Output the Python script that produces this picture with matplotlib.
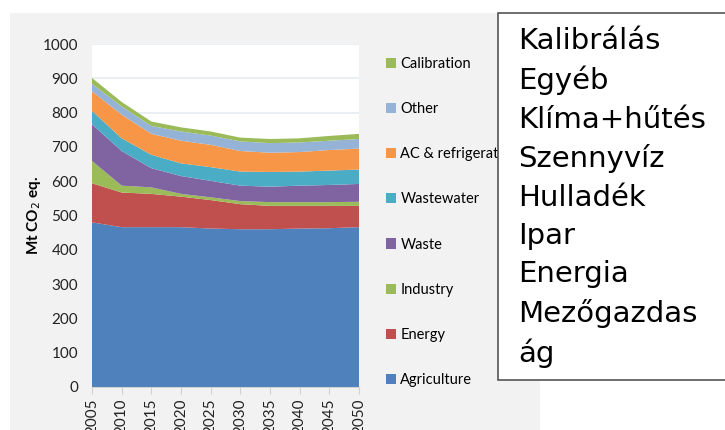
import matplotlib.pyplot as plt
from matplotlib.patches import Rectangle, Patch
import numpy as np

plt.rcParams.update({"font.family": ["Lato", "DejaVu Sans"], "font.size": 10})

# Data (Mt CO2 eq.)
years = [2005, 2010, 2015, 2020, 2025, 2030, 2035, 2040, 2045, 2050]
agriculture = [480, 466, 466, 466, 462, 460, 460, 462, 463, 466]
energy = [114, 101, 97, 89, 83, 73, 68, 66, 65, 62]
industry = [65, 20, 19, 8, 8, 9, 11, 11, 11, 12]
waste = [107, 101, 56, 52, 48, 45, 45, 48, 50, 52]
wastewater = [39, 37, 39, 37, 40, 41, 43, 41, 42, 42]
ac_refrig = [57, 69, 61, 66, 65, 60, 56, 57, 60, 61]
other = [22, 24, 23, 27, 27, 28, 28, 28, 27, 28]
calibration = [17, 13, 13, 12, 12, 11, 12, 12, 14, 15]

series_names = ["Agriculture", "Energy", "Industry", "Waste", "Wastewater",
                "AC & refrigeration", "Other", "Calibration"]
colors = ["#4F81BD", "#C0504D", "#9BBB59", "#8064A2", "#4BACC6",
          "#F79646", "#95B3D7", "#9BBB59"]
y_ticks = [0, 100, 200, 300, 400, 500, 600, 700, 800, 900, 1000]

# Hungarian labels in the overlay box
hu_labels = ["Kalibrálás", "Egyéb", "Klíma+hűtés", "Szennyvíz", "Hulladék",
             "Ipar", "Energia", "Mezőgazdas", "ág"]

fig = plt.figure(figsize=(7.25, 4.3), dpi=100)
fig.patch.set_facecolor("white")

# grey chart panel behind everything
fig.add_artist(Rectangle((10 / 725, 0), 530 / 725, 417 / 430,
                         transform=fig.transFigure, facecolor="#F2F2F2",
                         edgecolor="none", zorder=0))

ax = fig.add_axes([92 / 725, 1 - 387 / 430, 267 / 725, 343 / 430])
ax.set_facecolor("white")
polys = ax.stackplot(years, agriculture, energy, industry, waste, wastewater,
                     ac_refrig, other, calibration, colors=colors,
                     linewidth=0, zorder=2)

ax.set_xlim(years[0], years[-1])
ax.set_ylim(0, 1000)
ax.set_yticks(y_ticks)
ax.set_xticks(years)
ax.set_xticklabels([str(y) for y in years], rotation=90, fontsize=11,
                   color="#222222")
ax.tick_params(axis="y", length=0, pad=10, labelsize=11, labelcolor="#222222")
ax.tick_params(axis="x", length=5, width=0.8, color="#D0D0D0", pad=3)
ax.yaxis.grid(True, color="#E6ECF2", linewidth=1.2, zorder=1)
ax.set_axisbelow(True)
for side in ["top", "right", "left"]:
    ax.spines[side].set_visible(False)
ax.spines["bottom"].set_color("#D0D0D0")
ax.set_ylabel("Mt CO$_2$ eq.", fontsize=11, fontweight="bold", labelpad=0)

# legend, reversed order as in the reference
handles = [Patch(facecolor=c, edgecolor="none") for c in colors]
fig.legend(handles[::-1], series_names[::-1], loc="upper left",
           bbox_to_anchor=(380 / 725, 1 - 51 / 430), frameon=False,
           fontsize=10.5, handlelength=0.7, handleheight=0.7,
           handletextpad=0.3, labelspacing=2.14, borderaxespad=0)

# white overlay box with the Hungarian labels
fig.add_artist(Rectangle((498 / 725, 1 - 380 / 430), 240 / 725, 367 / 430,
                         transform=fig.transFigure, facecolor="white",
                         edgecolor="#555555", linewidth=1.2, zorder=10))
fig.text(518 / 725, 1 - 27 / 430, "\n".join(hu_labels), fontsize=21,
         family="DejaVu Sans", va="top", ha="left", linespacing=1.465,
         color="black", zorder=11)

fig.savefig("out.png", dpi=100)
